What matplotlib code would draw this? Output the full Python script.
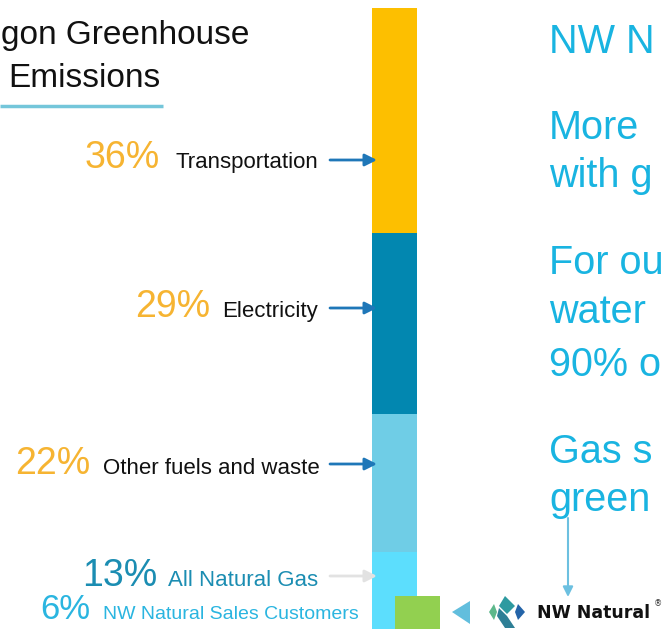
import numpy as np
import matplotlib
matplotlib.use("Agg")
import matplotlib.pyplot as plt
from matplotlib.patches import Polygon

plt.rcParams['font.family'] = ['Liberation Sans', 'DejaVu Sans']

## DATA

# Oregon greenhouse gas emissions by sector, percent (bottom to top of the bar)
sectors = ["All Natural Gas", "Other fuels and waste", "Electricity", "Transportation"]
shares = [13, 22, 29, 36]
sector_colors = ["#5CDEFD", "#6FCDE6", "#0287B0", "#FDBF00"]

# NW Natural sales customers, percent
sales_label = "NW Natural Sales Customers"
sales_share = [6]

pct_labels = ["13%", "22%", "29%", "36%"]

## FIGURE

W, H = 664, 629
fig = plt.figure(figsize=(W / 100, H / 100), dpi=100)
fig.patch.set_facecolor("white")

# the stacked bar (runs a little past the bottom edge, as in the slide)
axb = fig.add_axes([372 / W, -4 / H, 68 / W, 625 / H])
bottom = 0
for val, col in zip(shares, sector_colors):
    axb.bar(0, val, width=45, bottom=bottom, color=col, align="edge", linewidth=0)
    bottom += val
axb.bar(23, sales_share[0], width=45, bottom=0, color="#92D050", align="edge",
        linewidth=0, zorder=3)
axb.set_xlim(0, 68)
axb.set_ylim(0, 100)
axb.axis("off")

# overlay in pixel units for the slide text
ov = fig.add_axes([0, 0, 1, 1])
ov.set_xlim(0, W)
ov.set_ylim(H, 0)
ov.axis("off")

# title (cut off at left as in the slide)
ov.text(1, 44, "gon Greenhouse", fontsize=24, color="#111111", va="baseline")
ov.text(8, 87, "Emissions", fontsize=24, color="#111111", va="baseline")
ov.plot([0, 163], [106, 106], color="#74C6DA", lw=2.5, solid_capstyle="butt")

# sector labels
orange = "#F6B432"
rows = [
    # pct x-right, name x-left, baseline, arrow y, pct colour, name colour, arrow colour
    (160, 175, 168, 160, orange, "#111111", "#1F77B8"),
    (210, 222, 317, 308, orange, "#111111", "#1F77B8"),
    (90, 103, 474, 464, orange, "#111111", "#1F77B8"),
    (157, 168, 586, 576, "#1B8DB2", "#1B8DB2", "#E2E2E2"),
]
order = [3, 2, 1, 0]
for (px, nx, base, ay, pc, nc, ac), i in zip(rows, order):
    ov.text(px, base, pct_labels[i], fontsize=27, color=pc, ha="right", va="baseline")
    ov.text(nx, base, sectors[i], fontsize=16, color=nc, ha="left", va="baseline")
    ov.annotate("", xy=(377, ay), xytext=(330, ay),
                arrowprops=dict(arrowstyle="-|>", color=ac, lw=2,
                                mutation_scale=18, shrinkA=0, shrinkB=0))

ov.text(90, 619, "%d%%" % sales_share[0], fontsize=25, color="#2AB5E0",
        ha="right", va="baseline")
ov.text(103, 619, sales_label, fontsize=14, color="#2AB5E0", ha="left", va="baseline")

# pointer triangle and logo
ov.add_patch(Polygon([[452, 612], [470, 601], [470, 624]], closed=True,
                     color="#62BEDD", lw=0))
ov.add_patch(Polygon([[505, 596], [515, 606], [507, 614], [499, 606]], closed=True,
                     color="#2E9AA0", lw=0))
ov.add_patch(Polygon([[499, 608], [507, 616], [515, 628], [505, 628], [497, 616]],
                     closed=True, color="#2E7F96", lw=0))
ov.add_patch(Polygon([[494, 604], [489, 612], [494, 620], [497, 612]], closed=True,
                     color="#5DB88B", lw=0))
ov.add_patch(Polygon([[518, 604], [525, 612], [518, 620], [515, 612]], closed=True,
                     color="#2464A8", lw=0))
ov.text(537, 618, "NW Natural", fontsize=12.5, fontweight="bold",
        family="DejaVu Sans", color="#111111", va="baseline")
ov.text(654, 606, "\u00ae", fontsize=6, family="DejaVu Sans", color="#333333")

# right-hand text (cut off at right as in the slide)
cyan = "#19B4E1"
right_lines = [("NW N", 53), ("More", 139), ("with g", 187), ("For ou", 274),
               ("water", 323), ("90% o", 376), ("Gas s", 463), ("green", 511)]
for txt, base in right_lines:
    ov.text(549, base, txt, fontsize=28.5, color=cyan, va="baseline")

ov.annotate("", xy=(568, 597), xytext=(568, 518),
            arrowprops=dict(arrowstyle="-|>", color="#6CC0E0", lw=1.5,
                            mutation_scale=15, shrinkA=0, shrinkB=0))

fig.savefig("out.png", dpi=100)
